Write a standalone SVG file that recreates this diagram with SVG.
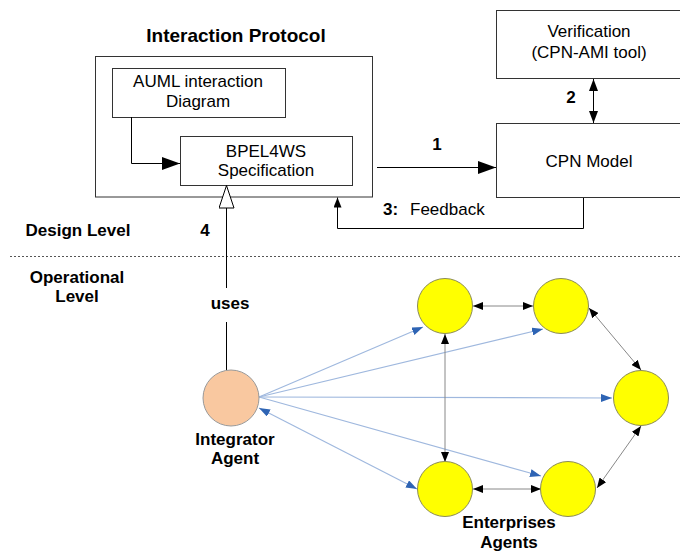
<svg xmlns="http://www.w3.org/2000/svg" width="680" height="552" viewBox="0 0 680 552">
<style>
text{font-family:"Liberation Sans",Arial,sans-serif;fill:#000}
.n{font-size:17px}
.b{font-size:17px;font-weight:bold}
.t{font-size:19px;font-weight:bold}
.box{fill:#fff;stroke:#333;stroke-width:1}
.k{fill:none;stroke:#000;stroke-width:1}
.g{fill:none;stroke:#888;stroke-width:1}
.bl{fill:none;stroke:#9fb8de;stroke-width:1.2}
.yc{fill:#ffff00;stroke:#8a8a5a;stroke-width:1}
</style>
<defs>
<marker id="big" markerWidth="18" markerHeight="13" refX="18" refY="6.5" orient="auto" markerUnits="userSpaceOnUse"><path d="M0,0 L18,6.5 L0,13 Z" fill="#000"/></marker>
<marker id="med" markerWidth="12" markerHeight="9" refX="12" refY="4.5" orient="auto-start-reverse" markerUnits="userSpaceOnUse"><path d="M0,0 L12,4.5 L0,9 Z" fill="#000"/></marker>
<marker id="sm" markerWidth="10" markerHeight="8" refX="10" refY="4" orient="auto-start-reverse" markerUnits="userSpaceOnUse"><path d="M0,0 L10,4 L0,8 Z" fill="#000"/></marker>
<marker id="blu" markerWidth="11" markerHeight="8" refX="11" refY="4" orient="auto-start-reverse" markerUnits="userSpaceOnUse"><path d="M0,0 L11,4 L0,8 Z" fill="#2e64b4"/></marker>
<marker id="hollow" markerWidth="24" markerHeight="16" refX="23" refY="8" orient="auto" markerUnits="userSpaceOnUse"><path d="M0.5,0.5 L23,8 L0.5,15.5 Z" fill="#fff" stroke="#000"/></marker>
</defs>

<text class="t" x="236" y="42" text-anchor="middle">Interaction Protocol</text>

<g id="protocol"><rect class="box" x="95.5" y="56.5" width="277" height="140.5"/></g>
<g id="auml"><rect class="box" x="112.5" y="68.5" width="173" height="49"/>
<text class="n" x="198" y="87" text-anchor="middle">AUML interaction</text>
<text class="n" x="198" y="107" text-anchor="middle">Diagram</text></g>
<g id="bpel"><rect class="box" x="180.5" y="136.5" width="172" height="49"/>
<text class="n" x="266" y="157" text-anchor="middle">BPEL4WS</text>
<text class="n" x="266" y="176" text-anchor="middle">Specification</text></g>
<g id="verification"><rect class="box" x="496.5" y="10.5" width="190" height="68"/>
<text class="n" x="589" y="37" text-anchor="middle">Verification</text>
<text class="n" x="589" y="58" text-anchor="middle">(CPN-AMI tool)</text></g>
<g id="cpn"><rect class="box" x="496.5" y="123.5" width="190" height="74"/>
<text class="n" x="589" y="167" text-anchor="middle">CPN Model</text></g>

<g id="labels">
<text class="b" x="437" y="150" text-anchor="middle">1</text>
<text class="b" x="571" y="103" text-anchor="middle">2</text>
<text class="b" x="383" y="215">3:</text>
<text class="n" x="410" y="215">Feedback</text>
<text class="b" x="78" y="236" text-anchor="middle">Design Level</text>
<text class="b" x="205" y="236" text-anchor="middle">4</text>
<text class="b" x="77" y="283" text-anchor="middle">Operational</text>
<text class="b" x="77" y="302" text-anchor="middle">Level</text>
<text class="b" x="230" y="309" text-anchor="middle">uses</text>
<text class="b" x="235" y="445" text-anchor="middle">Integrator</text>
<text class="b" x="235" y="464" text-anchor="middle">Agent</text>
<text class="b" x="509" y="528" text-anchor="middle">Enterprises</text>
<text class="b" x="509" y="548" text-anchor="middle">Agents</text>
</g>

<line x1="10" y1="256.5" x2="680" y2="256.5" stroke="#555" stroke-width="1" stroke-dasharray="2,2"/>

<g id="connectors">
<path class="k" d="M131.5,117 V163.5 H180" marker-end="url(#big)"/>
<path class="k" d="M377,167.5 H496" marker-end="url(#big)"/>
<path class="k" d="M593.5,79 V123" marker-start="url(#med)" marker-end="url(#med)"/>
<path class="k" d="M583.5,198 V228.5 H337.5 V197.5" marker-end="url(#sm)"/>
<path class="k" d="M226.5,288 V185.5" marker-end="url(#hollow)"/>
<path class="k" d="M226.5,322 V370"/>

<line class="bl" x1="259" y1="397" x2="423" y2="327" marker-end="url(#blu)"/>
<line class="bl" x1="259" y1="397" x2="543" y2="329" marker-end="url(#blu)"/>
<line class="bl" x1="259" y1="397" x2="612" y2="398" marker-end="url(#blu)"/>
<line class="bl" x1="259" y1="397" x2="541" y2="476" marker-end="url(#blu)"/>
<line class="bl" x1="259" y1="408" x2="417" y2="489" marker-start="url(#blu)" marker-end="url(#blu)"/>

<line class="g" x1="473" y1="306" x2="533" y2="306" marker-start="url(#sm)" marker-end="url(#sm)"/>
<line class="g" x1="445" y1="334" x2="445" y2="462" marker-start="url(#sm)" marker-end="url(#sm)"/>
<line class="g" x1="589" y1="308" x2="641" y2="370" marker-start="url(#sm)" marker-end="url(#sm)"/>
<line class="g" x1="641" y1="426" x2="597" y2="488" marker-start="url(#sm)" marker-end="url(#sm)"/>
<line class="g" x1="473" y1="489" x2="541" y2="489" marker-start="url(#sm)" marker-end="url(#sm)"/>
</g>

<g id="integrator"><circle cx="231" cy="398" r="28" fill="#f9c8a0" stroke="#999" stroke-width="1"/></g>
<g id="ea1"><circle class="yc" cx="445" cy="306" r="27.5"/></g>
<g id="ea2"><circle class="yc" cx="561" cy="306" r="27.5"/></g>
<g id="ea3"><circle class="yc" cx="641" cy="398" r="27.5"/></g>
<g id="ea4"><circle class="yc" cx="445" cy="489" r="27.5"/></g>
<g id="ea5"><circle class="yc" cx="568" cy="489" r="27.5"/></g>
</svg>
